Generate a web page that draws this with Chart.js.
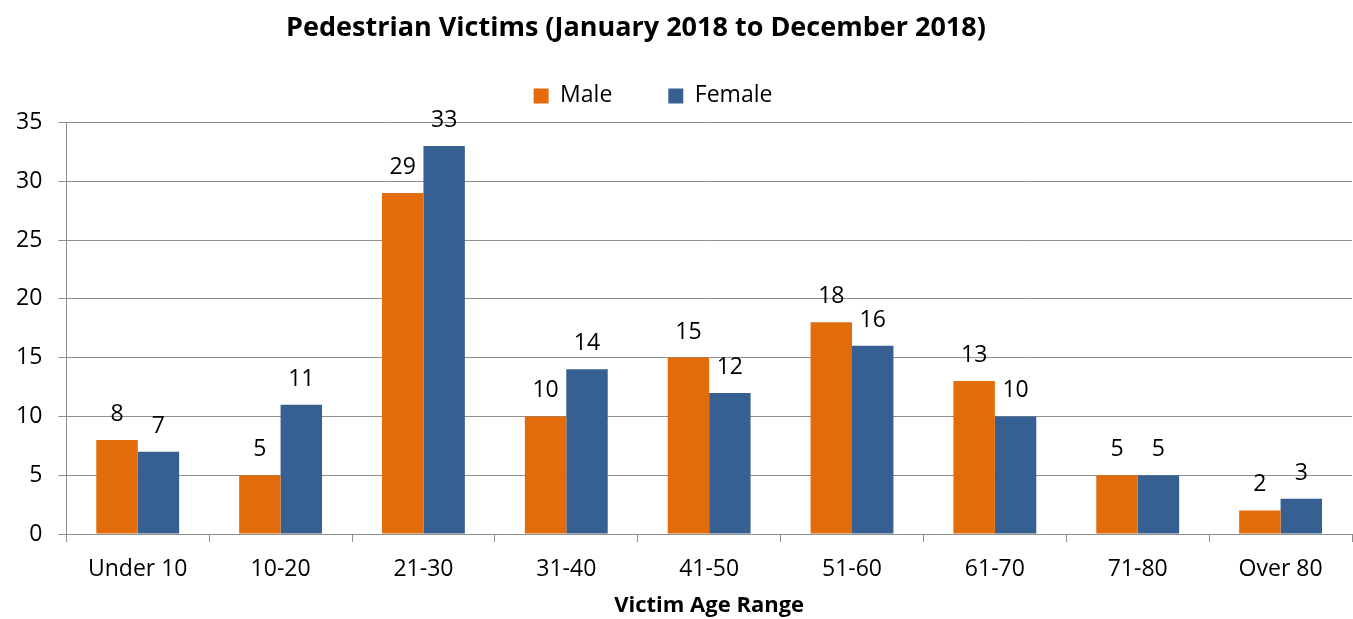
<!DOCTYPE html>
<html>
<head>
<meta charset="utf-8">
<script src="https://cdn.jsdelivr.net/npm/chart.js@4.4.1/dist/chart.umd.min.js"></script>
<style>
  body { margin: 0; background: #fff; }
  #wrap { width: 1353px; height: 619px; position: relative; }
</style>
</head>
<body>
<div id="wrap"><canvas id="c"></canvas></div>
<script>
// age ranges and counts
const ageRanges = ["Under 10", "10-20", "21-30", "31-40", "41-50", "51-60", "61-70", "71-80", "Over 80"]
const maleVictims = [8, 5, 29, 10, 15, 18, 13, 5, 2]
const femaleVictims = [7, 11, 33, 14, 12, 16, 10, 5, 3]
const yTicks = [0, 5, 10, 15, 20, 25, 30, 35]

const fontName = "'Open Sans', sans-serif"
const gridGray = "#8f8f8f"
const legendGap = 56

// draw the value above each bar
const valueLabels = {
    id: "valueLabels",
    afterDatasetsDraw(chart) {
        const ctx = chart.ctx
        ctx.save()
        ctx.font = "23px " + fontName
        ctx.fillStyle = "#000"
        ctx.textAlign = "center"
        ctx.textBaseline = "alphabetic"
        chart.data.datasets.forEach((ds, i) => {
            chart.getDatasetMeta(i).data.forEach((bar, j) => {
                ctx.fillText(ds.data[j], bar.x, bar.y - 19)
            })
        })
        ctx.restore()
    }
}

// wide gap between legend items without the tall legend box,
// and title + legend sit a bit left of centre like in the original
const blockTweaks = {
    id: "blockTweaks",
    afterInit(chart) {
        const leg = chart.legend
        const fit = leg.fit
        leg.fit = function () {
            fit.call(this)
            this.height = 52
        }
        const draw = leg.draw
        leg.draw = function () {
            const shift = legendGap - 14
            const t = this.top, h = this.height, l = this.left, w = this.width
            this.top = t - shift
            this.height = h + shift
            this.left = l - 46
            this.width = w + 46
            draw.call(this)
            this.top = t
            this.height = h
            this.left = l
            this.width = w
        }
        const tb = chart.titleBlock
        const tdraw = tb.draw
        tb.draw = function () {
            chart.ctx.save()
            chart.ctx.translate(-40, 0)
            tdraw.call(this)
            chart.ctx.restore()
        }
    }
}

let chart = new Chart(document.getElementById("c"), {
    type: "bar",
    data: {
        labels: ageRanges,
        datasets: [{
            label: "Male",
            data: maleVictims,
            backgroundColor: "#e36c0a",
            borderWidth: 0,
            categoryPercentage: 0.58,
            barPercentage: 1
        }, {
            label: "Female",
            data: femaleVictims,
            backgroundColor: "#376092",
            borderWidth: 0,
            categoryPercentage: 0.58,
            barPercentage: 1
        }]
    },
    options: {
        responsive: true,
        maintainAspectRatio: false,
        animation: false,
        layout: { padding: { left: 0, right: 1, top: 0, bottom: 0 } },
        plugins: {
            title: {
                display: true,
                text: "Pedestrian Victims (January 2018 to December 2018)",
                color: "#000",
                font: { family: fontName, size: 27, weight: "bold" },
                padding: { top: 12, bottom: 26 }
            },
            legend: {
                position: "top",
                labels: {
                    color: "#000",
                    font: { family: fontName, size: 23 },
                    boxWidth: 15,
                    boxHeight: 15,
                    padding: legendGap
                }
            },
            tooltip: { enabled: false }
        },
        scales: {
            x: {
                grid: {
                    offset: true,
                    drawOnChartArea: false,
                    drawTicks: true,
                    tickLength: 8,
                    color: gridGray
                },
                border: { color: gridGray },
                ticks: {
                    color: "#000",
                    font: { family: fontName, size: 23 },
                    padding: 14
                },
                title: {
                    display: true,
                    text: "Victim Age Range",
                    color: "#000",
                    font: { family: fontName, size: 22, weight: "bold" },
                    padding: { top: -5, bottom: 0 }
                }
            },
            y: {
                min: 0,
                max: 35,
                afterBuildTicks(axis) {
                    axis.ticks = yTicks.map(v => ({ value: v }))
                },
                grid: {
                    color: gridGray,
                    tickLength: 8
                },
                border: { color: gridGray },
                ticks: {
                    color: "#000",
                    font: { family: fontName, size: 23 },
                    padding: 16
                }
            }
        }
    },
    plugins: [valueLabels, blockTweaks]
})
</script>
</body>
</html>
